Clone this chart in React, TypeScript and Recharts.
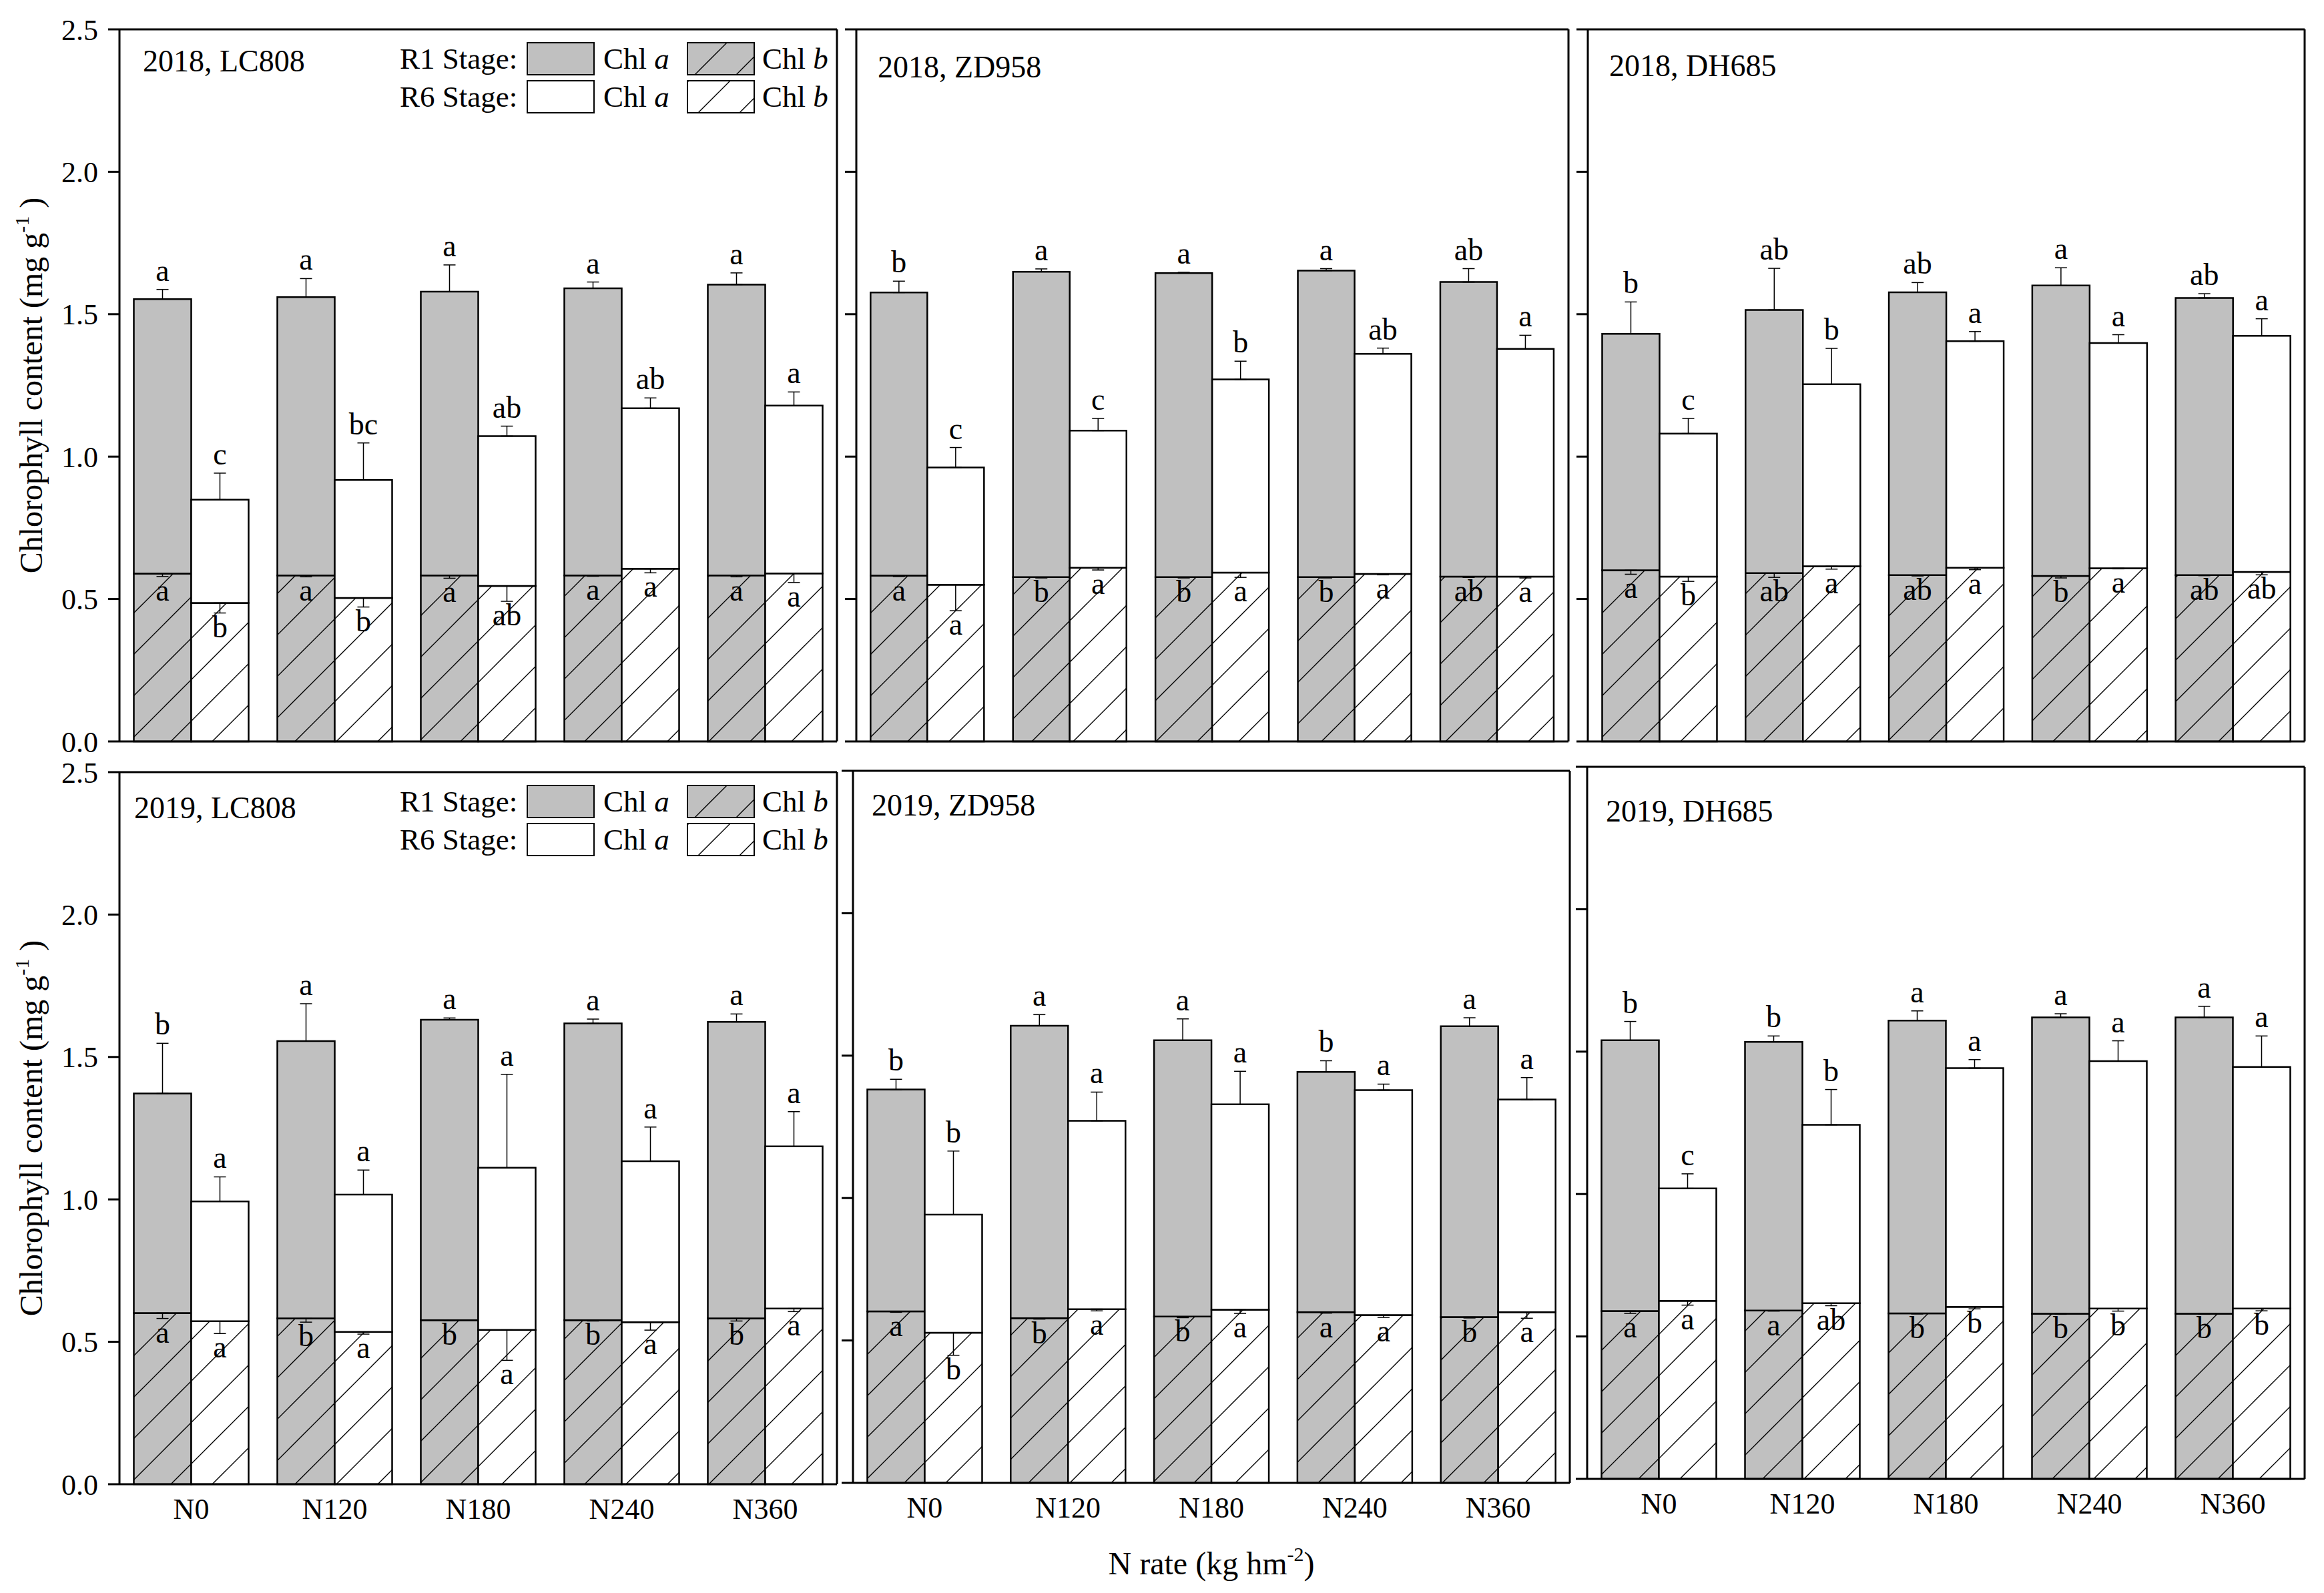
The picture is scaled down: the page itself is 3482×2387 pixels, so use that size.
import React from 'react';
import { BarChart, Bar, XAxis, YAxis, ErrorBar, LabelList, ReferenceLine } from 'recharts';

const N_RATES = ['N0', 'N120', 'N180', 'N240', 'N360'];
const Y_TICKS = [0, 0.5, 1, 1.5, 2, 2.5];

// 2018, LC808
const LC18_R1A = [1.553, 1.560, 1.579, 1.591, 1.604];
const LC18_R1A_ERR = [0.034, 0.065, 0.094, 0.022, 0.041];
const LC18_R1B = [0.589, 0.583, 0.583, 0.583, 0.583];
const LC18_R1B_ERR = [0.010, 0.005, 0.010, 0.003, 0.005];
const LC18_R6A = [0.849, 0.918, 1.072, 1.170, 1.179];
const LC18_R6A_ERR = [0.093, 0.130, 0.035, 0.036, 0.048];
const LC18_R6B = [0.486, 0.504, 0.546, 0.606, 0.590];
const LC18_R6B_ERR = [0.035, 0.032, 0.054, 0.014, 0.032];
const LC18_R1A_LET = ['a', 'a', 'a', 'a', 'a'];
const LC18_R6A_LET = ['c', 'bc', 'ab', 'ab', 'a'];
const LC18_R1B_LET = ['a', 'a', 'a', 'a', 'a'];
const LC18_R6B_LET = ['b', 'b', 'ab', 'a', 'a'];

// 2018, ZD958
const ZD18_R1A = [1.576, 1.649, 1.644, 1.653, 1.613];
const ZD18_R1A_ERR = [0.040, 0.010, 0.003, 0.007, 0.047];
const ZD18_R1B = [0.582, 0.577, 0.577, 0.577, 0.579];
const ZD18_R1B_ERR = [0.003, 0.003, 0.003, 0.003, 0.003];
const ZD18_R6A = [0.962, 1.091, 1.271, 1.361, 1.378];
const ZD18_R6A_ERR = [0.070, 0.043, 0.064, 0.020, 0.048];
const ZD18_R6B = [0.550, 0.610, 0.593, 0.588, 0.579];
const ZD18_R6B_ERR = [0.091, 0.008, 0.017, 0.003, 0.005];
const ZD18_R1A_LET = ['b', 'a', 'a', 'a', 'ab'];
const ZD18_R6A_LET = ['c', 'c', 'b', 'ab', 'a'];
const ZD18_R1B_LET = ['a', 'b', 'b', 'b', 'ab'];
const ZD18_R6B_LET = ['a', 'a', 'a', 'a', 'a'];

// 2018, DH685
const DH18_R1A = [1.431, 1.515, 1.577, 1.601, 1.557];
const DH18_R1A_ERR = [0.112, 0.146, 0.034, 0.062, 0.015];
const DH18_R1B = [0.601, 0.591, 0.584, 0.581, 0.584];
const DH18_R1B_ERR = [0.014, 0.015, 0.003, 0.007, 0.002];
const DH18_R6A = [1.081, 1.254, 1.405, 1.399, 1.424];
const DH18_R6A_ERR = [0.053, 0.126, 0.034, 0.029, 0.060];
const DH18_R6B = [0.579, 0.615, 0.610, 0.608, 0.595];
const DH18_R6B_ERR = [0.017, 0.010, 0.007, 0.002, 0.010];
const DH18_R1A_LET = ['b', 'ab', 'ab', 'a', 'ab'];
const DH18_R6A_LET = ['c', 'b', 'a', 'a', 'a'];
const DH18_R1B_LET = ['a', 'ab', 'ab', 'b', 'ab'];
const DH18_R6B_LET = ['b', 'a', 'a', 'a', 'ab'];

// 2019, LC808
const LC19_R1A = [1.372, 1.556, 1.631, 1.618, 1.623];
const LC19_R1A_ERR = [0.176, 0.131, 0.006, 0.015, 0.028];
const LC19_R1B = [0.601, 0.582, 0.576, 0.576, 0.582];
const LC19_R1B_ERR = [0.019, 0.013, 0.002, 0.003, 0.009];
const LC19_R6A = [0.993, 1.017, 1.111, 1.134, 1.186];
const LC19_R6A_ERR = [0.086, 0.086, 0.328, 0.120, 0.122];
const LC19_R6B = [0.572, 0.535, 0.542, 0.569, 0.617];
const LC19_R6B_ERR = [0.043, 0.008, 0.107, 0.028, 0.011];
const LC19_R1A_LET = ['b', 'a', 'a', 'a', 'a'];
const LC19_R6A_LET = ['a', 'a', 'a', 'a', 'a'];
const LC19_R1B_LET = ['a', 'b', 'b', 'b', 'b'];
const LC19_R6B_LET = ['a', 'a', 'a', 'a', 'a'];

// 2019, ZD958
const ZD19_R1A = [1.381, 1.605, 1.554, 1.443, 1.603];
const ZD19_R1A_ERR = [0.036, 0.039, 0.075, 0.039, 0.030];
const ZD19_R1B = [0.602, 0.578, 0.584, 0.599, 0.582];
const ZD19_R1B_ERR = [0.003, 0.003, 0.004, 0.003, 0.003];
const ZD19_R6A = [0.942, 1.271, 1.329, 1.379, 1.346];
const ZD19_R6A_ERR = [0.223, 0.101, 0.116, 0.021, 0.077];
const ZD19_R6B = [0.527, 0.610, 0.608, 0.589, 0.599];
const ZD19_R6B_ERR = [0.079, 0.006, 0.013, 0.008, 0.021];
const ZD19_R1A_LET = ['b', 'a', 'a', 'b', 'a'];
const ZD19_R6A_LET = ['b', 'a', 'a', 'a', 'a'];
const ZD19_R1B_LET = ['a', 'b', 'b', 'a', 'b'];
const ZD19_R6B_LET = ['b', 'a', 'a', 'a', 'a'];

// 2019, DH685
const DH19_R1A = [1.540, 1.534, 1.609, 1.620, 1.620];
const DH19_R1A_ERR = [0.066, 0.021, 0.034, 0.013, 0.039];
const DH19_R1B = [0.589, 0.591, 0.581, 0.580, 0.580];
const DH19_R1B_ERR = [0.008, 0.002, 0.002, 0.002, 0.002];
const DH19_R6A = [1.020, 1.243, 1.442, 1.467, 1.446];
const DH19_R6A_ERR = [0.051, 0.124, 0.030, 0.071, 0.109];
const DH19_R6B = [0.625, 0.617, 0.604, 0.598, 0.598];
const DH19_R6B_ERR = [0.015, 0.009, 0.007, 0.009, 0.008];
const DH19_R1A_LET = ['b', 'b', 'a', 'a', 'a'];
const DH19_R6A_LET = ['c', 'b', 'a', 'a', 'a'];
const DH19_R1B_LET = ['a', 'a', 'b', 'b', 'b'];
const DH19_R6B_LET = ['a', 'ab', 'b', 'b', 'b'];

const FONT = '"Liberation Serif", "Times New Roman", serif';
const GRAY = '#c0c0c0';
const AXIS = { stroke: '#000', strokeWidth: 3 };
const LEFT = 180;
const TOP = 40;
const RIGHT = 12;
const BOTTOM = 160;

const PANELS = [
  { title: '2018, LC808', x: 179, y: 44, w: 1075, h: 1067, tx: 35, ty: 63, yLabels: true, xLabels: false, legend: true,
    r1a: LC18_R1A, r1aErr: LC18_R1A_ERR, r1b: LC18_R1B, r1bErr: LC18_R1B_ERR, r6a: LC18_R6A, r6aErr: LC18_R6A_ERR, r6b: LC18_R6B, r6bErr: LC18_R6B_ERR,
    r1aLet: LC18_R1A_LET, r6aLet: LC18_R6A_LET, r1bLet: LC18_R1B_LET, r6bLet: LC18_R6B_LET },
  { title: '2018, ZD958', x: 1283, y: 44, w: 1067, h: 1067, tx: 32, ty: 72, yLabels: false, xLabels: false, legend: false,
    r1a: ZD18_R1A, r1aErr: ZD18_R1A_ERR, r1b: ZD18_R1B, r1bErr: ZD18_R1B_ERR, r6a: ZD18_R6A, r6aErr: ZD18_R6A_ERR, r6b: ZD18_R6B, r6bErr: ZD18_R6B_ERR,
    r1aLet: ZD18_R1A_LET, r6aLet: ZD18_R6A_LET, r1bLet: ZD18_R1B_LET, r6bLet: ZD18_R6B_LET },
  { title: '2018, DH685', x: 2379, y: 44, w: 1074, h: 1067, tx: 32, ty: 70, yLabels: false, xLabels: false, legend: false,
    r1a: DH18_R1A, r1aErr: DH18_R1A_ERR, r1b: DH18_R1B, r1bErr: DH18_R1B_ERR, r6a: DH18_R6A, r6aErr: DH18_R6A_ERR, r6b: DH18_R6B, r6bErr: DH18_R6B_ERR,
    r1aLet: DH18_R1A_LET, r6aLet: DH18_R6A_LET, r1bLet: DH18_R1B_LET, r6bLet: DH18_R6B_LET },
  { title: '2019, LC808', x: 179, y: 1157, w: 1075, h: 1067, tx: 22, ty: 69, yLabels: true, xLabels: true, legend: true,
    r1a: LC19_R1A, r1aErr: LC19_R1A_ERR, r1b: LC19_R1B, r1bErr: LC19_R1B_ERR, r6a: LC19_R6A, r6aErr: LC19_R6A_ERR, r6b: LC19_R6B, r6bErr: LC19_R6B_ERR,
    r1aLet: LC19_R1A_LET, r6aLet: LC19_R6A_LET, r1bLet: LC19_R1B_LET, r6bLet: LC19_R6B_LET },
  { title: '2019, ZD958', x: 1278, y: 1155, w: 1074, h: 1067, tx: 28, ty: 67, yLabels: false, xLabels: true, legend: false,
    r1a: ZD19_R1A, r1aErr: ZD19_R1A_ERR, r1b: ZD19_R1B, r1bErr: ZD19_R1B_ERR, r6a: ZD19_R6A, r6aErr: ZD19_R6A_ERR, r6b: ZD19_R6B, r6bErr: ZD19_R6B_ERR,
    r1aLet: ZD19_R1A_LET, r6aLet: ZD19_R6A_LET, r1bLet: ZD19_R1B_LET, r6bLet: ZD19_R6B_LET },
  { title: '2019, DH685', x: 2378, y: 1149, w: 1075, h: 1067, tx: 28, ty: 82, yLabels: false, xLabels: true, legend: false,
    r1a: DH19_R1A, r1aErr: DH19_R1A_ERR, r1b: DH19_R1B, r1bErr: DH19_R1B_ERR, r6a: DH19_R6A, r6aErr: DH19_R6A_ERR, r6b: DH19_R6B, r6bErr: DH19_R6B_ERR,
    r1aLet: DH19_R1A_LET, r6aLet: DH19_R6A_LET, r1bLet: DH19_R1B_LET, r6bLet: DH19_R6B_LET },
];

function Hatch({ id, bg }: { id: string; bg: string }) {
  return (
    <pattern id={id} patternUnits="userSpaceOnUse" width={62} height={62}>
      <rect width={62} height={62} fill={bg} />
      <path d="M0,62L62,0M-8,8L8,-8M54,70L70,54" stroke="#000" strokeWidth={1.4} />
    </pattern>
  );
}

function geom(props: any) {
  const vb = props.viewBox && props.viewBox.width != null ? props.viewBox : props;
  const h = Number(vb.height);
  return { x: Number(vb.x), w: Number(vb.width), top: h >= 0 ? Number(vb.y) : Number(vb.y) + h, h: Math.abs(h) };
}

// letter above the upward error bar of the Chl a part
const aboveLabel = (letters: string[], errs: number[], segs: number[]) => (props: any) => {
  const i = props.index;
  if (i == null) return null;
  const g = geom(props);
  const ppu = g.h / segs[i];
  return (
    <text x={g.x + g.w / 2} y={g.top - errs[i] * ppu - 13} textAnchor="middle" fontSize={46} fontFamily={FONT} fill="#000">
      {letters[i]}
    </text>
  );
};

// letter below the downward error bar of the Chl b part
const belowLabel = (letters: string[], errs: number[], segs: number[]) => (props: any) => {
  const i = props.index;
  if (i == null) return null;
  const g = geom(props);
  const ppu = g.h / segs[i];
  return (
    <text x={g.x + g.w / 2} y={g.top + errs[i] * ppu + 36} textAnchor="middle" fontSize={46} fontFamily={FONT} fill="#000">
      {letters[i]}
    </text>
  );
};

function Panel({ p, idx }: { p: any; idx: number }) {
  const rows = N_RATES.map((n, i) => ({
    n,
    r1b: p.r1b[i],
    r1a: p.r1a[i] - p.r1b[i],
    r6b: p.r6b[i],
    r6a: p.r6a[i] - p.r6b[i],
    r1bErr: [p.r1bErr[i], 0],
    r1aErr: [0, p.r1aErr[i]],
    r6bErr: [p.r6bErr[i], 0],
    r6aErr: [0, p.r6aErr[i]],
  }));
  const r1aSeg = rows.map((r) => r.r1a);
  const r6aSeg = rows.map((r) => r.r6a);
  const gid = `hg${idx}`;
  const wid = `hw${idx}`;
  const tick = { fontSize: 44, fontFamily: FONT, fill: '#000' };
  return (
    <div style={{ position: 'absolute', left: p.x - LEFT, top: p.y - TOP }}>
      <BarChart
        width={LEFT + p.w + RIGHT}
        height={TOP + p.h + BOTTOM}
        data={rows}
        margin={{ top: TOP, right: RIGHT - 1, left: 0, bottom: 0 }}
        barCategoryGap="10%"
        barGap={0}
      >
        <defs>
          <Hatch id={gid} bg={GRAY} />
          <Hatch id={wid} bg="#fff" />
        </defs>
        <XAxis
          dataKey="n"
          height={BOTTOM}
          interval={0}
          tickLine={false}
          tickSize={0}
          tickMargin={21}
          axisLine={AXIS}
          tick={tick}
          tickFormatter={(v: string) => (p.xLabels ? v : '')}
        />
        <YAxis
          width={LEFT}
          domain={[0, 2.5]}
          ticks={Y_TICKS}
          interval={0}
          tickSize={17}
          tickMargin={15}
          tickLine={AXIS}
          axisLine={AXIS}
          tick={tick}
          tickFormatter={(v: number) => (p.yLabels ? v.toFixed(1) : '')}
        />
        <YAxis yAxisId="right" orientation="right" width={1} domain={[0, 2.5]} tick={false} tickLine={false} axisLine={AXIS} />
        <ReferenceLine y={2.5} stroke="#000" strokeWidth={3} />
        <Bar dataKey="r1b" stackId="r1" fill={`url(#${gid})`} stroke="#000" strokeWidth={2.5} isAnimationActive={false}>
          <ErrorBar dataKey="r1bErr" width={9} stroke="#000" strokeWidth={1.5} isAnimationActive={false} />
          <LabelList dataKey="r1b" content={belowLabel(p.r1bLet, p.r1bErr, p.r1b)} />
        </Bar>
        <Bar dataKey="r1a" stackId="r1" fill={GRAY} stroke="#000" strokeWidth={2.5} isAnimationActive={false}>
          <ErrorBar dataKey="r1aErr" width={9} stroke="#000" strokeWidth={1.5} isAnimationActive={false} />
          <LabelList dataKey="r1a" content={aboveLabel(p.r1aLet, p.r1aErr, r1aSeg)} />
        </Bar>
        <Bar dataKey="r6b" stackId="r6" fill={`url(#${wid})`} stroke="#000" strokeWidth={2.5} isAnimationActive={false}>
          <ErrorBar dataKey="r6bErr" width={9} stroke="#000" strokeWidth={1.5} isAnimationActive={false} />
          <LabelList dataKey="r6b" content={belowLabel(p.r6bLet, p.r6bErr, p.r6b)} />
        </Bar>
        <Bar dataKey="r6a" stackId="r6" fill="#fff" stroke="#000" strokeWidth={2.5} isAnimationActive={false}>
          <ErrorBar dataKey="r6aErr" width={9} stroke="#000" strokeWidth={1.5} isAnimationActive={false} />
          <LabelList dataKey="r6a" content={aboveLabel(p.r6aLet, p.r6aErr, r6aSeg)} />
        </Bar>
      </BarChart>
    </div>
  );
}

function StageLegend({ x, y }: { x: number; y: number }) {
  const t = { fontSize: 45, fontFamily: FONT, fill: '#000' };
  const box = { width: 100, height: 48, stroke: '#000', strokeWidth: 2 };
  return (
    <g transform={`translate(${x},${y})`}>
      <text x={420} y={59} {...t}>R1 Stage:</text>
      <rect x={611} y={20} {...box} fill={GRAY} />
      <text x={725} y={59} {...t}>Chl <tspan fontStyle="italic">a</tspan></text>
      <rect x={851} y={20} {...box} fill="url(#lg-hg)" />
      <text x={963} y={59} {...t}>Chl <tspan fontStyle="italic">b</tspan></text>
      <text x={420} y={116} {...t}>R6 Stage:</text>
      <rect x={611} y={77} {...box} fill="#fff" />
      <text x={725} y={116} {...t}>Chl <tspan fontStyle="italic">a</tspan></text>
      <rect x={851} y={77} {...box} fill="url(#lg-hw)" />
      <text x={963} y={116} {...t}>Chl <tspan fontStyle="italic">b</tspan></text>
    </g>
  );
}

export default function App() {
  const t = { fontSize: 46, fontFamily: FONT, fill: '#000' };
  const ax = { fontSize: 48, fontFamily: FONT, fill: '#000' };
  return (
    <div style={{ position: 'absolute', left: 0, top: 0, width: 3482, height: 2387, background: '#fff', overflow: 'hidden' }}>
      {PANELS.map((p, i) => (
        <Panel key={p.title} p={p} idx={i} />
      ))}
      <svg width={3482} height={2387} style={{ position: 'absolute', left: 0, top: 0, pointerEvents: 'none' }}>
        <defs>
          <Hatch id="lg-hg" bg={GRAY} />
          <Hatch id="lg-hw" bg="#fff" />
        </defs>
        {PANELS.map((p) => (
          <text key={p.title} x={p.x + p.tx} y={p.y + p.ty} {...t}>{p.title}</text>
        ))}
        {PANELS.filter((p) => p.legend).map((p) => (
          <StageLegend key={p.title} x={p.x} y={p.y} />
        ))}
        {PANELS.filter((p) => p.yLabels).map((p) => (
          <text key={p.title} transform={`translate(63,${p.y + p.h / 2}) rotate(-90)`} textAnchor="middle" {...ax}>
            Chlorophyll content (mg g<tspan fontSize={30} dy={-20}>-1</tspan><tspan dy={20}> )</tspan>
          </text>
        ))}
        <text x={1815} y={2359} textAnchor="middle" {...ax}>
          N rate (kg hm<tspan fontSize={30} dy={-20}>-2</tspan><tspan dy={20}>)</tspan>
        </text>
      </svg>
    </div>
  );
}
